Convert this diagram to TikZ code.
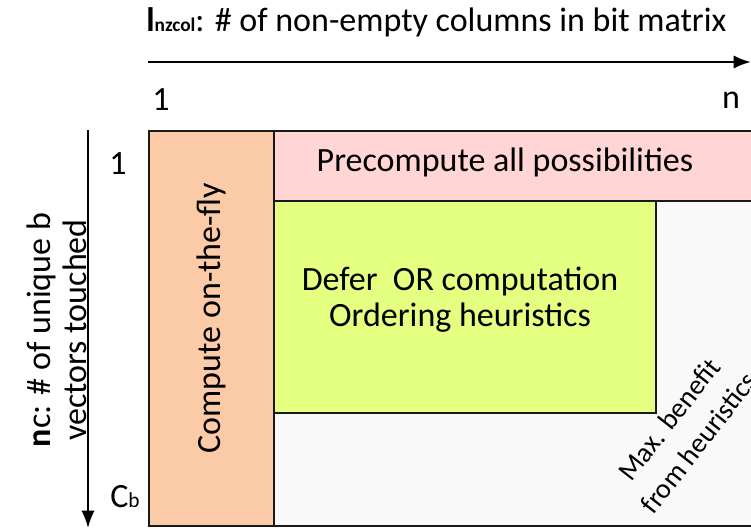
\documentclass[tikz,border=0pt]{standalone}
\usepackage{fontspec}
\setmainfont{Carlito}
\usetikzlibrary{arrows.meta,positioning}
\definecolor{flyc}{HTML}{FBCBA7}
\definecolor{prec}{HTML}{FFD5D6}
\definecolor{defc}{HTML}{E5FF80}
\definecolor{restc}{HTML}{F9F9F9}

\begin{document}
\begin{tikzpicture}[
  x=0.75pt, y=-0.75pt,
  font=\fontsize{25.5}{27}\selectfont,
  region/.style = {rectangle, draw=black!90, line width=1.8pt, anchor=north west,
                   inner sep=0pt, align=center},
  lbl/.style    = {inner sep=0pt, align=center},
  small/.style  = {lbl, font=\fontsize{21}{28}\selectfont},
  axis/.style   = {-{Latex[length=13pt,width=10pt]}, line width=2pt},
]
\useasboundingbox (0,0) rectangle (751,529);
\clip (0,0) rectangle (751,529);

% ── regions ──────────────────────────────────────────────────────────────
\node[region, fill=restc, minimum width=462pt, minimum height=296.25pt] (all) at (148,130) {};
\node[region, fill=flyc, minimum width=93.75pt, minimum height=296.25pt] (fly) at (148,130) {};
\node[region, fill=prec, minimum width=368pt, minimum height=52.5pt] (pre) at (273,130) {};
\node[region, fill=defc, minimum width=286.5pt, minimum height=159pt] (defer) at (273,200) {};

\node[lbl] (deferL) at (460,300) {Defer~ OR computation\\Ordering heuristics};
\node[lbl] (preL) at (505,162) {Precompute all possibilities};
\node[lbl, rotate=90] (flyL) at (211,318) {Compute on-the-fly};
\node[small, rotate=52] (maxL) at (684,431) {Max. benefit\\from heuristics};

% ── axes ─────────────────────────────────────────────────────────────────
\coordinate (xs) at (148,62);
\coordinate (xe) at (751,62);
\coordinate (ys) at (88,130);
\coordinate (ye) at (88,528);
\draw[axis] (xs) -- (xe);
\draw[axis, line width=1.5pt] (ys) -- (ye);

\node[lbl, anchor=west] (xL) at (146,22)
     {{\bfseries l}{\fontsize{14.5}{16}\selectfont\bfseries nzcol}: \# of non-empty columns in bit matrix};
\node[lbl] (x1) at (161,100) {1};
\node[lbl] (xn) at (731,100) {n};
\node[lbl, rotate=90] (yL) at (57,330)
     {{\bfseries n}c: \# of unique b\\vectors touched};
\node[lbl] (y1) at (118,164) {1};
\node[lbl] (ycb) at (125,497) {C{\fontsize{16}{18}\selectfont b}};
\end{tikzpicture}
\end{document}
